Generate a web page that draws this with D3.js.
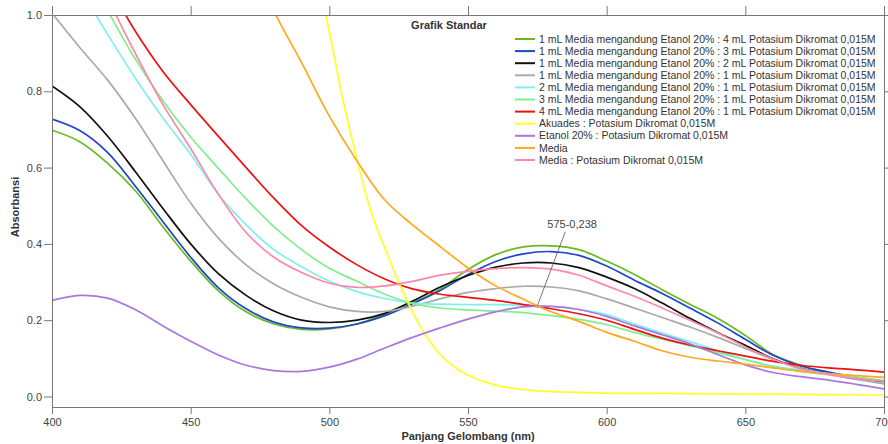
<!DOCTYPE html>
<html>
<head>
<meta charset="utf-8">
<script src="https://cdn.jsdelivr.net/npm/d3@7"></script>
<style>
  body { margin: 0; background: #fff; }
  text { font-family: Arial, "Liberation Sans", sans-serif; }
</style>
</head>
<body>
<svg id="chart" width="888" height="444"></svg>
<script>
// wavelength grid (nm) shared by most traces
const wavelength = [400, 410, 420, 430, 440, 450, 460, 470, 480, 490, 500, 510, 520, 530, 540, 550,
  560, 570, 580, 590, 600, 610, 620, 630, 640, 650, 660, 670, 680, 690, 700]

// absorbance, null = off the top of the plot
const media1etanol4 = [0.698, 0.668, 0.612, 0.54, 0.445, 0.355, 0.277, 0.222, 0.19, 0.176, 0.177, 0.19, 0.215, 0.245, 0.282, 0.333,
  0.372, 0.392, 0.395, 0.385, 0.355, 0.32, 0.28, 0.242, 0.205, 0.16, 0.11, 0.082, 0.063, 0.048, 0.038]
const media1etanol3 = [0.727, 0.697, 0.64, 0.552, 0.458, 0.365, 0.285, 0.23, 0.195, 0.18, 0.179, 0.19, 0.212, 0.243, 0.278, 0.32,
  0.354, 0.374, 0.38, 0.37, 0.342, 0.305, 0.27, 0.232, 0.193, 0.15, 0.108, 0.08, 0.064, 0.05, 0.04]
const media1etanol2 = [0.814, 0.76, 0.683, 0.59, 0.493, 0.4, 0.322, 0.265, 0.224, 0.2, 0.194, 0.2, 0.218, 0.25, 0.287, 0.317,
  0.339, 0.35, 0.35, 0.338, 0.313, 0.283, 0.245, 0.205, 0.168, 0.134, 0.099, 0.074, 0.06, 0.048, 0.04]
const media1etanol1 = [1.005, 0.915, 0.83, 0.73, 0.618, 0.507, 0.415, 0.345, 0.295, 0.26, 0.235, 0.223, 0.223, 0.237, 0.256, 0.273,
  0.283, 0.289, 0.287, 0.277, 0.256, 0.232, 0.207, 0.182, 0.155, 0.126, 0.097, 0.074, 0.058, 0.045, 0.033]
const media2etanol1 = [null, 1.07, 0.95, 0.835, 0.73, 0.635, 0.53, 0.45, 0.385, 0.34, 0.302, 0.275, 0.257, 0.245, 0.242, 0.241,
  0.241, 0.239, 0.236, 0.228, 0.215, 0.19, 0.166, 0.144, 0.12, 0.097, 0.079, 0.07, 0.06, 0.05, 0.042]
const media3etanol1 = [null, 1.14, 1.012, 0.885, 0.775, 0.68, 0.598, 0.518, 0.445, 0.385, 0.336, 0.302, 0.268, 0.244, 0.232, 0.227,
  0.224, 0.22, 0.212, 0.202, 0.188, 0.168, 0.15, 0.133, 0.115, 0.097, 0.079, 0.066, 0.057, 0.05, 0.042]
const media4etanol1 = [null, null, 1.085, 0.958, 0.852, 0.765, 0.682, 0.6, 0.52, 0.448, 0.392, 0.345, 0.308, 0.282, 0.268, 0.26,
  0.252, 0.241, 0.23, 0.217, 0.2, 0.176, 0.153, 0.135, 0.12, 0.106, 0.092, 0.082, 0.075, 0.07, 0.064]
const etanolDikromat = [0.252, 0.265, 0.258, 0.228, 0.185, 0.145, 0.109, 0.082, 0.068, 0.066, 0.077, 0.098, 0.127, 0.155, 0.18, 0.203,
  0.222, 0.235, 0.236, 0.228, 0.21, 0.185, 0.162, 0.138, 0.11, 0.083, 0.063, 0.052, 0.043, 0.032, 0.02]
const media = [null, null, null, null, null, null, null, 1.17, 1.01, 0.875, 0.735, 0.617, 0.515, 0.45, 0.393, 0.337,
  0.29, 0.255, 0.222, 0.197, 0.168, 0.145, 0.12, 0.103, 0.093, 0.085, 0.075, 0.066, 0.06, 0.055, 0.05]
const mediaDikromat = [null, null, 1.045, 0.9, 0.765, 0.65, 0.53, 0.43, 0.365, 0.325, 0.297, 0.286, 0.29, 0.302, 0.318, 0.328,
  0.335, 0.338, 0.334, 0.318, 0.29, 0.263, 0.232, 0.2, 0.167, 0.13, 0.098, 0.072, 0.058, 0.047, 0.04]

// the aquades trace drops fast, so it gets its own finer grid
const akuadesWavelength = [495, 500, 505, 510, 515, 520, 525, 530, 535, 540, 545, 550, 560, 570, 580, 590, 600, 620, 640, 660, 680, 700]
const akuadesDikromat = [1.13, 0.956, 0.775, 0.62, 0.485, 0.39, 0.3, 0.222, 0.158, 0.11, 0.078, 0.056, 0.03, 0.018, 0.013, 0.011,
  0.009, 0.008, 0.007, 0.006, 0.005, 0.004]

const labels = [
  '1 mL Media mengandung Etanol 20% : 4 mL Potasium Dikromat 0,015M',
  '1 mL Media mengandung Etanol 20% : 3 mL Potasium Dikromat 0,015M',
  '1 mL Media mengandung Etanol 20% : 2 mL Potasium Dikromat 0,015M',
  '1 mL Media mengandung Etanol 20% : 1 mL Potasium Dikromat 0,015M',
  '2 mL Media mengandung Etanol 20% : 1 mL Potasium Dikromat 0,015M',
  '3 mL Media mengandung Etanol 20% : 1 mL Potasium Dikromat 0,015M',
  '4 mL Media mengandung Etanol 20% : 1 mL Potasium Dikromat 0,015M',
  'Akuades : Potasium Dikromat 0,015M',
  'Etanol 20% : Potasium Dikromat 0,015M',
  'Media',
  'Media : Potasium Dikromat 0,015M'
]
const colors = ['#66bb22', '#1f45c8', '#111111', '#aaaaaa', '#7ff0f0', '#80ee90', '#ee1111',
  '#ffff22', '#aa77dd', '#ffa820', '#ff88aa']

const xTicks = [400, 450, 500, 550, 600, 650, 700]
const yTicks = [0, 0.2, 0.4, 0.6, 0.8, 1.0]
const peak = { x: 575, y: 0.238, label: '575-0,238' }

const seriesValues = [media1etanol4, media1etanol3, media1etanol2, media1etanol1, media2etanol1, media3etanol1,
  media4etanol1, akuadesDikromat, etanolDikromat, media, mediaDikromat]

const series = labels.map((name, i) => {
  const xs = seriesValues[i] === akuadesDikromat ? akuadesWavelength : wavelength
  return { name, color: colors[i], points: xs.map((w, j) => ({ w, a: seriesValues[i][j] })) }
})

const plot = { left: 52, right: 884, top: 15, bottom: 407 }

const x = d3.scaleLinear().domain([400, 700]).range([plot.left, plot.right])
const y = d3.scaleLinear().domain([-0.0275, 1]).range([plot.bottom, plot.top])

const svg = d3.select('#chart')

svg.append('defs').append('clipPath').attr('id', 'plotArea')
  .append('rect')
  .attr('x', plot.left).attr('y', plot.top)
  .attr('width', plot.right - plot.left).attr('height', plot.bottom - plot.top)

const line = d3.line()
  .defined(d => d.a != null)
  .x(d => x(d.w))
  .y(d => y(d.a))
  .curve(d3.curveCatmullRom.alpha(0.5))

svg.append('g')
  .attr('clip-path', 'url(#plotArea)')
  .selectAll('path')
  .data(series)
  .join('path')
  .attr('d', d => line(d.points))
  .attr('fill', 'none')
  .attr('stroke', d => d.color)
  .attr('stroke-width', 1.7)

function styleAxis (g) {
  g.selectAll('path, line').attr('stroke', '#777')
  g.selectAll('text').attr('fill', '#444').attr('font-size', 11)
}

svg.append('g')
  .attr('transform', `translate(${plot.left},0)`)
  .call(d3.axisLeft(y).tickValues(yTicks).tickFormat(d3.format('.1f')).tickSize(8).tickSizeOuter(0).tickPadding(2))
  .call(styleAxis)

svg.append('g')
  .attr('transform', `translate(${plot.right},0)`)
  .call(d3.axisRight(y).tickValues(yTicks).tickFormat('').tickSize(5).tickSizeOuter(0))
  .call(styleAxis)

svg.append('g')
  .attr('transform', `translate(0,${plot.bottom})`)
  .call(d3.axisBottom(x).tickValues(xTicks).tickSize(7).tickSizeOuter(0).tickPadding(4))
  .call(styleAxis)

svg.append('g')
  .attr('transform', `translate(0,${plot.top})`)
  .call(d3.axisTop(x).tickValues(xTicks).tickFormat('').tickSize(9).tickSizeOuter(0))
  .call(styleAxis)

svg.append('text')
  .text('Panjang Gelombang (nm)')
  .attr('x', (plot.left + plot.right) / 2)
  .attr('y', 440)
  .attr('text-anchor', 'middle')
  .attr('font-size', 11)
  .attr('font-weight', 'bold')
  .attr('fill', '#333')

svg.append('text')
  .text('Absorbansi')
  .attr('transform', `translate(19,${(plot.top + plot.bottom) / 2 - 4}) rotate(-90)`)
  .attr('text-anchor', 'middle')
  .attr('font-size', 11)
  .attr('font-weight', 'bold')
  .attr('fill', '#333')

svg.append('text')
  .text('Grafik Standar')
  .attr('x', 449)
  .attr('y', 29)
  .attr('text-anchor', 'middle')
  .attr('font-size', 11)
  .attr('font-weight', 'bold')
  .attr('fill', '#333')

// legend
const legend = svg.append('g').attr('transform', 'translate(515,39)')
const item = legend.selectAll('g')
  .data(series)
  .join('g')
  .attr('transform', (d, i) => `translate(0,${i * 12.1})`)
item.append('line')
  .attr('x1', 0).attr('x2', 20)
  .attr('stroke', d => d.color)
  .attr('stroke-width', 2)
item.append('text')
  .text(d => d.name)
  .attr('x', 24)
  .attr('dy', '0.35em')
  .attr('font-size', 10.5)
  .attr('fill', '#333')

// peak annotation
const px = x(peak.x), py = y(peak.y)
svg.append('line')
  .attr('x1', px).attr('y1', py)
  .attr('x2', px + 28).attr('y2', py - 74)
  .attr('stroke', '#555')
  .attr('stroke-width', 0.8)
svg.append('text')
  .text(peak.label)
  .attr('x', px + 10)
  .attr('y', py - 78)
  .attr('font-size', 11)
  .attr('fill', '#444')
</script>
</body>
</html>
